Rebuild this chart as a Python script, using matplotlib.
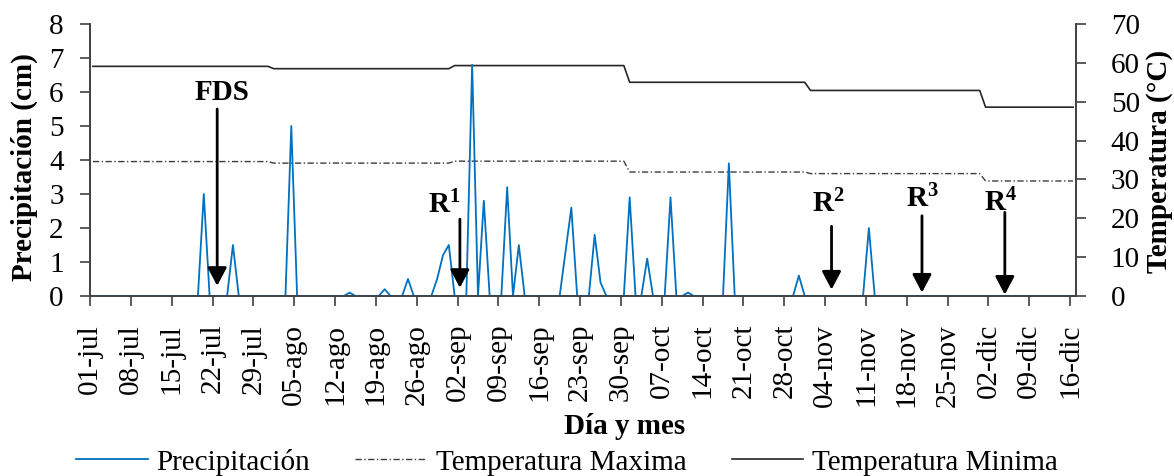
import matplotlib
matplotlib.use("Agg")
import numpy as np
import matplotlib.pyplot as plt

plt.rcParams['font.family'] = ['Liberation Serif', 'DejaVu Serif']
plt.rcParams['mathtext.fontset'] = 'custom'
plt.rcParams['mathtext.rm'] = 'Liberation Serif'
plt.rcParams['mathtext.bf'] = 'Liberation Serif:bold'

# Calendar: 01-jul to 16-dic
month_names = ['jul', 'ago', 'sep', 'oct', 'nov', 'dic']
month_days = [31, 31, 30, 31, 30, 16]
dates = [f"{d:02d}-{m}" for m, n in zip(month_names, month_days) for d in range(1, n + 1)]

# Rain events (every other day had no rain)
rain_dates = ['20-jul', '25-jul', '04-ago', '14-ago', '20-ago', '24-ago', '29-ago', '30-ago',
              '31-ago', '04-sep', '06-sep', '10-sep', '12-sep', '20-sep', '21-sep', '25-sep',
              '26-sep', '01-oct', '04-oct', '08-oct', '11-oct', '18-oct', '30-oct', '11-nov']
rain_cm = [3.0, 1.5, 5.0, 0.1, 0.2, 0.5, 0.5, 1.2,
           1.5, 6.8, 2.8, 3.2, 1.5, 1.3, 2.6, 1.8,
           0.4, 2.9, 1.1, 2.9, 0.1, 3.9, 0.6, 2.0]

# Monthly mean temperatures (°C), jul..dic
temp_maxima = [34.6, 34.2, 34.7, 31.9, 31.5, 29.6]
temp_minima = [59.1, 58.5, 59.3, 55.0, 52.9, 48.6]

# Management events: label, date index position, arrow top (cm), text position
event_labels = ['FDS', r'$\mathbf{R^{1}}$', r'$\mathbf{R^{2}}$', r'$\mathbf{R^{3}}$', r'$\mathbf{R^{4}}$']
event_x = [21.8, 63.4, 127.1, 142.6, 156.8]
event_top = [5.5, 2.26, 2.05, 2.36, 2.46]
event_tip = [0.3, 0.24, 0.19, 0.1, 0.04]
event_text_x = [22.6, 60.7, 126.5, 142.6, 156.0]
event_text_y = [5.98, 2.42, 2.45, 2.6, 2.48]

n = len(dates)
precip = np.zeros(n)
for d, v in zip(rain_dates, rain_cm):
    precip[dates.index(d)] = v
tmax_daily = np.repeat(temp_maxima, month_days)
tmin_daily = np.repeat(temp_minima, month_days)
xpos = np.arange(n) + 0.5

W, H = 1174, 476
fig = plt.figure(figsize=(W / 100, H / 100), dpi=100)
ax = fig.add_axes([90 / W, 1 - 296 / H, (1076 - 90) / W, (296 - 24) / H])
ax2 = ax.twinx()

FS = 21
spine_c = '#404040'

l_t1, = ax2.plot(xpos, tmax_daily, color='#3c3c3c', lw=1.0, dashes=(4.5, 1.8, 1.0, 1.8),
                 label='Temperatura Maxima')
l_t2, = ax2.plot(xpos, tmin_daily, color='#262626', lw=1.2, label='Temperatura Minima')
l_p, = ax.plot(xpos, precip, color='#0070C0', lw=1.3, label='Precipitación')

ax.set_zorder(ax2.get_zorder() + 1)
ax.patch.set_visible(False)

ax.set_xlim(0, n)
ax.set_ylim(0, 8)
ax2.set_ylim(0, 70)
ax.set_yticks(np.arange(0, 9, 1))
ax2.set_yticks(np.arange(0, 71, 10))
ticks = np.arange(0, n, 7)
ax.set_xticks(ticks)
ax.set_xticklabels([dates[i] for i in ticks], rotation=90)

for a in (ax, ax2):
    a.spines['top'].set_visible(False)
    for s in a.spines.values():
        s.set_color(spine_c)
        s.set_linewidth(1.2)
    a.tick_params(direction='out', length=7, width=1.2, color=spine_c, labelsize=FS,
                  labelcolor='black')
ax.tick_params(axis='y', pad=12)
ax.tick_params(axis='x', pad=13)
ax2.tick_params(axis='y', pad=18)

ax.set_ylabel('Precipitación (cm)', fontsize=FS, fontweight='bold')
ax.yaxis.set_label_coords(-0.053, 0.474)
ax2.set_ylabel('Temperatura (°C)', fontsize=FS, fontweight='bold')
ax2.yaxis.set_label_coords(1.071, 0.493)

fig.text(625 / W, 1 - 426 / H, 'Día y mes', fontsize=FS, fontweight='bold',
         ha='center', va='center')

for lab, x, top, tip, tx, ty in zip(event_labels, event_x, event_top, event_tip,
                                     event_text_x, event_text_y):
    ax.annotate('', xy=(x, tip), xytext=(x, top),
                arrowprops=dict(arrowstyle='-|>,head_length=0.55,head_width=0.29',
                                mutation_scale=20, lw=2, color='black',
                                shrinkA=0, shrinkB=0))
    if lab == 'FDS':
        ax.text(tx, ty, lab, fontsize=FS, fontweight='bold', ha='center', va='center')
    else:
        ax.text(tx, ty, lab, fontsize=FS, ha='center', va='baseline')

fig.legend([l_p, l_t1, l_t2], [l_p.get_label(), l_t1.get_label(), l_t2.get_label()],
           loc='center', bbox_to_anchor=(567 / W, 1 - 462 / H), ncol=3, frameon=False,
           prop={'size': 21}, handlelength=2.45, handletextpad=0.3, columnspacing=1.55,
           borderaxespad=0, borderpad=0)

fig.savefig('out.png', dpi=100)
